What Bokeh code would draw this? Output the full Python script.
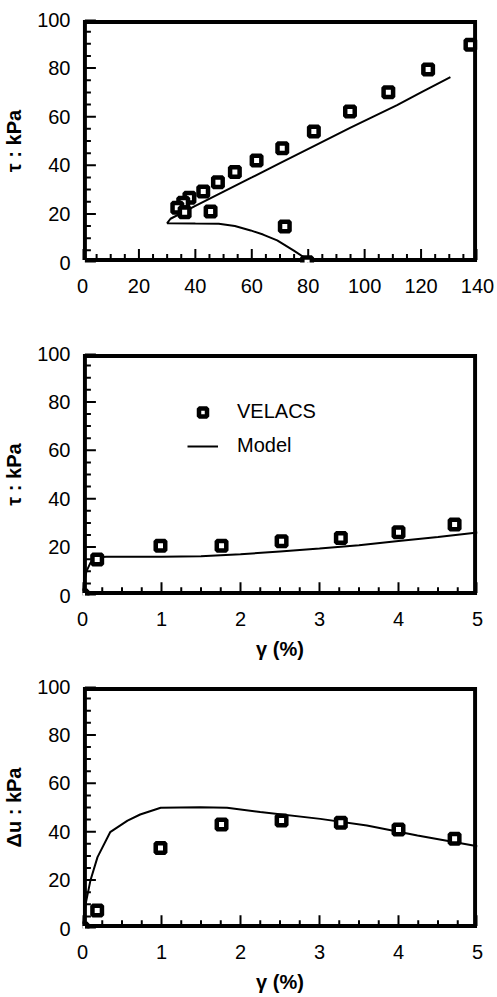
from bokeh.plotting import figure
from bokeh.models import (Range1d, SingleIntervalTicker, Legend, LegendItem, Label)
from bokeh.layouts import column
from bokeh.embed import file_html
from bokeh.resources import INLINE

# ---- data ----
sigma_pts = [137.5, 122.5, 108.4, 94.8, 82.0, 70.8, 61.7, 54.0, 48.0, 42.8, 37.9, 35.7, 33.6, 36.2, 45.4, 71.7, 79.6]
tau1_pts = [89.6, 79.4, 70.1, 62.1, 53.9, 47.0, 42.0, 37.2, 33.0, 29.2, 26.6, 24.6, 22.5, 20.7, 21.0, 14.8, 0.1]

m1_sigma = [80, 79.7, 78.4, 74.9, 69, 64, 59.6, 54, 48.3, 40, 30, 31.2, 40, 50, 60, 70, 82, 95, 111.5, 120, 130.4]
m1_tau = [0, 0.8, 2.2, 4.9, 9.1, 11.5, 13.2, 15.0, 15.9, 16, 16.2, 18.0, 23.3, 29.2, 35.0, 40.9, 47.9, 55.5, 64.8, 70.0, 76.3]

gamma_pts = [0, 0.186, 0.987, 1.76, 2.52, 3.27, 4.0, 4.71]
tau2_pts = [0, 14.9, 20.6, 20.6, 22.4, 23.8, 26.1, 29.3]
du_pts = [0, 7.4, 33.3, 43.0, 44.6, 43.7, 40.9, 37.1]

m2_gamma = [0, 0.02, 0.05, 0.1, 0.15, 0.2, 0.3, 0.6, 1.0, 1.5, 2.0, 2.5, 3.0, 3.5, 4.0, 4.5, 5.0]
m2_tau = [0, 5, 10, 13.5, 15.2, 15.8, 16, 16, 16, 16.2, 17, 18.2, 19.4, 20.8, 22.5, 24.2, 26]

m3_gamma = [0, 0.04, 0.1, 0.19, 0.35, 0.57, 0.73, 0.99, 1.49, 1.83, 2.25, 3.01, 3.6, 4.24, 5.0]
m3_du = [0, 10.2, 19.8, 29.5, 39.8, 44.6, 47.1, 49.9, 50.1, 49.9, 48.1, 45.3, 42.6, 38.4, 34.0]

# tick positions
sigma_major = [0, 20, 40, 60, 80, 100, 120, 140]
sigma_minor = [5, 10, 15, 25, 30, 35, 45, 50, 55, 65, 70, 75, 85, 90, 95, 105, 110, 115, 125, 130, 135]
gamma_major = [0, 1, 2, 3, 4, 5]
gamma_minor = [0.25, 0.5, 0.75, 1.25, 1.5, 1.75, 2.25, 2.5, 2.75, 3.25, 3.5, 3.75, 4.25, 4.5, 4.75]
y_major = [0, 20, 40, 60, 80, 100]
y_minor = [5, 10, 15, 25, 30, 35, 45, 50, 55, 65, 70, 75, 85, 90, 95]

FONT = "Liberation Sans"
FRAME_W, FRAME_H = 395.0, 243.0


def make_fig(xmax, xint, height, top, bottom, xlabel, ylabel):
    p = figure(width=497, height=height, output_backend="svg", toolbar_location=None,
               x_range=Range1d(0, xmax), y_range=Range1d(0, 100),
               min_border_left=82, min_border_right=20,
               min_border_top=top, min_border_bottom=bottom)
    p.xgrid.visible = False
    p.ygrid.visible = False
    p.outline_line_color = None
    p.xaxis.ticker = SingleIntervalTicker(interval=xint, num_minor_ticks=4)
    p.yaxis.ticker = SingleIntervalTicker(interval=20, num_minor_ticks=4)
    for ax in (p.xaxis, p.yaxis):
        ax.axis_line_color = None
        ax.major_tick_line_color = None
        ax.minor_tick_line_color = None
        ax.major_tick_in = 0
        ax.major_tick_out = 0
        ax.minor_tick_in = 0
        ax.minor_tick_out = 0
        ax.major_label_text_font = FONT
        ax.major_label_text_font_size = "20px"
        ax.major_label_text_color = "black"
        ax.axis_label_text_font = FONT
        ax.axis_label_text_font_size = "20px"
        ax.axis_label_text_font_style = "bold"
        ax.axis_label_text_color = "black"
    p.xaxis.major_label_standoff = 16
    p.yaxis.major_label_standoff = 12
    p.xaxis.axis_label_standoff = 9
    p.yaxis.axis_label_standoff = 9
    if xlabel:
        p.xaxis.axis_label = xlabel
    p.yaxis.axis_label = ylabel
    return p


def draw_frame(p, xmajor, xminor, inset_px=2.4, width=4):
    x0, x1 = p.x_range.start, p.x_range.end
    y0, y1 = p.y_range.start, p.y_range.end
    ux = (x1 - x0) / FRAME_W   # data units per pixel
    uy = (y1 - y0) / FRAME_H
    dx, dy = inset_px * ux, inset_px * uy
    p.line([x0 + dx, x1 - dx, x1 - dx, x0 + dx, x0 + dx],
           [y0 + dy, y0 + dy, y1 - dy, y1 - dy, y0 + dy], line_color="black",
           line_width=width, line_join="miter")
    xt = xmajor + xminor
    xl = [11] * len(xmajor) + [6] * len(xminor)
    p.segment(xt, [y0 + dy] * len(xt), xt, [y0 + dy + l * uy for l in xl],
              line_color="black", line_width=2)
    yt = y_major + y_minor
    yl = [11] * len(y_major) + [6] * len(y_minor)
    p.segment([x0 + dx] * len(yt), yt, [x0 + dx + l * ux for l in yl], yt,
              line_color="black", line_width=2)


def add_points(p, xs, ys):
    return p.scatter(xs, ys, marker="square", size=9.5, fill_color="white",
                     line_color="black", line_width=4.5)


# ---- plot 1 ----
p1 = make_fig(140, 20, 338, 19, 76, None, "τ : kPa")
draw_frame(p1, sigma_major, sigma_minor)
p1.line(m1_sigma, m1_tau, line_color="black", line_width=2)
add_points(p1, sigma_pts, tau1_pts)
lab_kw = dict(x_units="screen", y_units="screen", text_font=FONT, text_font_size="20px",
              text_font_style="bold", text_color="black", text_baseline="alphabetic",
              text_align="left")
p1.add_layout(Label(x=144, y=-60.5, text="σ´", **lab_kw))
p1.add_layout(Label(x=165, y=-66, text="vo", **lab_kw))
p1.add_layout(Label(x=187, y=-60.5, text=" : kPa", **lab_kw))

# ---- plot 2 ----
p2 = make_fig(5, 1, 330, 15, 73, "γ (%)", "τ : kPa")
draw_frame(p2, gamma_major, gamma_minor)
ln2 = p2.line(m2_gamma, m2_tau, line_color="black", line_width=2)
sc2 = add_points(p2, gamma_pts, tau2_pts)
legend = Legend(items=[LegendItem(label="VELACS", renderers=[sc2]),
                       LegendItem(label="Model", renderers=[ln2])],
                location=(105, 138), glyph_width=31, glyph_height=20, label_height=20,
                spacing=11, padding=0, margin=0, label_standoff=19,
                border_line_alpha=0, background_fill_alpha=0,
                label_text_font=FONT, label_text_font_size="20px", label_text_color="black")
p2.add_layout(legend)

# ---- plot 3 ----
p3 = make_fig(5, 1, 329, 18, 69, "γ (%)", "Δu : kPa")
draw_frame(p3, gamma_major, gamma_minor)
p3.line(m3_gamma, m3_du, line_color="black", line_width=2)
add_points(p3, gamma_pts, du_pts)

layout = column(p1, p2, p3, spacing=0)
open("out.html", "w").write(file_html(layout, INLINE))
